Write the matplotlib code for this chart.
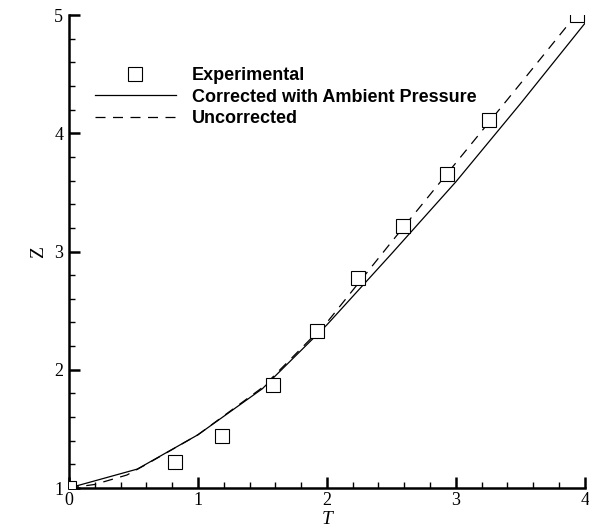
import numpy as np
import matplotlib
matplotlib.use("Agg")
import matplotlib.pyplot as plt
from matplotlib.ticker import MultipleLocator

# experimental points
t_exp = [0.0, 0.82, 1.19, 1.58, 1.92, 2.24, 2.59, 2.93, 3.26, 3.94]
z_exp = [1.0, 1.22, 1.44, 1.87, 2.33, 2.78, 3.22, 3.66, 4.11, 5.0]

# corrected with ambient pressure
t_cor = [0.0, 0.53, 1.0, 1.5, 2.0, 2.5, 3.0, 3.5, 4.0]
z_cor = [1.0, 1.16, 1.45, 1.84, 2.38, 2.98, 3.59, 4.25, 4.93]

# uncorrected
t_unc = [0.0, 0.2, 0.45, 0.6, 1.0, 1.5, 2.0, 2.5, 3.0, 3.5, 3.93]
z_unc = [1.0, 1.03, 1.11, 1.2, 1.45, 1.85, 2.40, 3.08, 3.75, 4.42, 5.0]

fig = plt.figure(figsize=(5.89, 5.29), dpi=100)
ax = fig.add_axes([0.117, 0.0775, 0.876, 0.894])

ax.plot(t_exp, z_exp, ls='none', marker='s', ms=9.5, mfc='white', mec='black',
        mew=0.8, label='Experimental', zorder=3)
ax.plot(t_cor, z_cor, color='black', lw=0.9, label='Corrected with Ambient Pressure')
ax.plot(t_unc, z_unc, color='black', lw=0.9, ls=(0, (8, 6)), label='Uncorrected')

ax.set_xlim(0, 4)
ax.set_ylim(1, 5)
ax.xaxis.set_major_locator(MultipleLocator(1))
ax.xaxis.set_minor_locator(MultipleLocator(0.2))
ax.yaxis.set_major_locator(MultipleLocator(1))
ax.yaxis.set_minor_locator(MultipleLocator(0.2))

for s in ['top', 'right']:
    ax.spines[s].set_visible(False)
for s in ['left', 'bottom']:
    ax.spines[s].set_linewidth(1.8)

ax.tick_params(which='major', direction='in', length=8, width=1.8, pad=4,
               labelsize=13, labelfontfamily='Liberation Serif')
ax.tick_params(which='minor', direction='in', length=4.5, width=1.0)
ax.tick_params(axis='x', which='major', pad=3)

ax.set_xlabel('T', family='Liberation Serif', style='italic', fontsize=14, labelpad=1)
ax.set_ylabel('Z', family='Liberation Serif', fontsize=14, labelpad=5)

leg = ax.legend(loc='upper left', bbox_to_anchor=(0.05, 0.89), frameon=False,
                borderpad=0, borderaxespad=0, handlelength=4.5, handletextpad=0.9,
                labelspacing=0.25, prop={'family': 'Liberation Sans', 'weight': 'bold', 'size': 13})

fig.savefig('out.png', dpi=100)
